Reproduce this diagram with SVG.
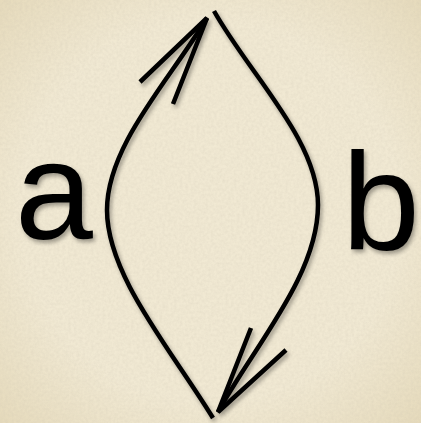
<svg xmlns="http://www.w3.org/2000/svg" width="421" height="423" viewBox="0 0 421 423">
<defs>
<filter id="tex" x="0" y="0" width="100%" height="100%">
<feTurbulence type="fractalNoise" baseFrequency="0.35" numOctaves="3" seed="4" result="n"/>
<feColorMatrix in="n" type="matrix" values="0 0 0 0 0.55  0 0 0 0 0.5  0 0 0 0 0.4  0 0 0 0.9 -0.25" result="m"/>
<feComposite in="m" in2="SourceGraphic" operator="in"/>
</filter>
<filter id="sh" x="-10%" y="-10%" width="130%" height="130%">
<feGaussianBlur in="SourceAlpha" stdDeviation="2"/>
<feOffset dx="2" dy="3" result="b"/>
<feComponentTransfer><feFuncA type="linear" slope="0.35"/></feComponentTransfer>
<feMerge><feMergeNode/><feMergeNode in="SourceGraphic"/></feMerge>
</filter>
<radialGradient id="vig" cx="50%" cy="50%" r="75%">
<stop offset="0.6" stop-color="#f1e9d3"/>
<stop offset="1" stop-color="#e4d8b8"/>
</radialGradient>
</defs>
<style>
.ln{fill:none;stroke:#000;stroke-width:4.5;stroke-linejoin:miter}
.lb{font-family:"Liberation Sans",Arial,sans-serif;font-size:140px;fill:#000}
</style>
<rect width="421" height="423" fill="url(#vig)"/>
<rect width="421" height="423" fill="#fff" filter="url(#tex)" opacity="0.35"/>
<g id="connectors" filter="url(#sh)">
<g id="edge-a">
<path class="ln" d="M213,418 C170,348 107,275 107,210 C107,145 170,80 207,18"/>
<path class="ln" d="M140,82 L207,18 L173,104"/>
</g>
<g id="edge-b">
<path class="ln" d="M214,11 C250,75 318,140 318,205 C318,275 255,345 218,412"/>
<path class="ln" d="M251,328 L218,412 L286,350"/>
</g>
</g>
<g id="node-a" filter="url(#sh)"><text class="lb" x="15" y="239">a</text></g>
<g id="node-b" filter="url(#sh)"><text class="lb" x="342" y="250">b</text></g>
</svg>
